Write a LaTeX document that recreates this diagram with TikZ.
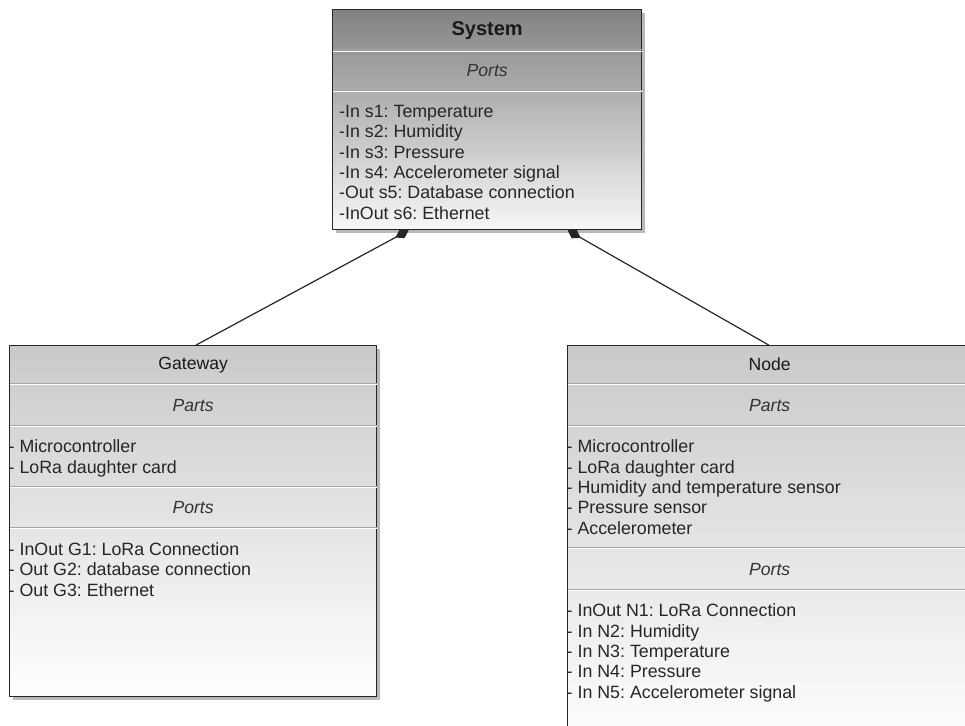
\documentclass[tikz,border=0pt]{standalone}
\usepackage{fontspec}
\setmainfont{Liberation Sans}
\usetikzlibrary{arrows.meta,shadows,calc}
\frenchspacing

\begin{document}
\begin{tikzpicture}[x=1pt,y=-1pt,
  umlbox/.style={draw=black!85, line width=1.3pt, inner sep=0pt, anchor=north west,
    drop shadow={shadow xshift=3pt, shadow yshift=-3pt, fill=black!30, opacity=0.9}},
  sepgray/.style={draw=black!35, line width=1pt},
  sepwhite/.style={draw=white, line width=1pt},
  boxtitle/.style={font=\fontsize{17.6}{20}\selectfont, text=black!90, anchor=base, inner sep=0pt},
  systitle/.style={font=\fontsize{20}{22}\selectfont\bfseries, text=black!90, anchor=base, inner sep=0pt},
  compart/.style={font=\fontsize{17.6}{20}\selectfont\itshape, text=black!80, anchor=base, inner sep=0pt},
  item/.style={font=\fontsize{17.8}{20}\selectfont\frenchspacing, text=black!85, anchor=base west, inner sep=0pt},
  composition/.style={draw=black!85, line width=1.2pt, -{Diamond[length=15pt 0 0,width=10pt 0 0]}}
]
\clip (0,0) rectangle (965,725);
\fill[white] (0,0) rectangle (965,725);

% ---------- System block ----------
\node[umlbox, minimum width=309pt, minimum height=220pt,
      top color=black!49, bottom color=black!3] (sys) at (332,9) {};
\foreach \y in {50,90.5} {
  \draw[sepgray]  ([xshift=0.7pt]sys.west |- 0,\y) -- ([xshift=-0.7pt]sys.east |- 0,\y);
  \draw[sepwhite] ([xshift=0.7pt]sys.west |- 0,\y+1.2) -- ([xshift=-0.7pt]sys.east |- 0,\y+1.2);
}
\node[systitle] (systitle) at (sys.north |- 0,36) {System};
\node[compart] (sysports) at (sys.north |- 0,76.5) {Ports};
\foreach \t [count=\i] in {-In s1: Temperature, -In s2: Humidity, -In s3: Pressure,
    -In s4: Accelerometer signal, -Out s5: Database connection, -InOut s6: Ethernet}
  \node[item] (sysport\i) at (339,{117.3+(\i-1)*20.4}) {\t};

% ---------- Gateway block ----------
\node[umlbox, minimum width=367pt, minimum height=351pt,
      top color=black!21, bottom color=white] (gw) at (9,345) {};
\foreach \y in {383.5,425,486.5,527.5} {
  \draw[sepgray]  ([xshift=0.7pt]gw.west |- 0,\y) -- ([xshift=-0.7pt]gw.east |- 0,\y);
  \draw[sepwhite] ([xshift=0.7pt]gw.west |- 0,\y+1.2) -- ([xshift=-0.7pt]gw.east |- 0,\y+1.2);
}
\node[boxtitle] (gwtitle) at (gw.north |- 0,369.5) {Gateway};
\node[compart] (gwparts) at (gw.north |- 0,411) {Parts};
\node[compart] (gwports) at (gw.north |- 0,513) {Ports};
\foreach \t [count=\i] in {- Microcontroller, - LoRa daughter card}
  \node[item] (gwpart\i) at (8.5,{452.7+(\i-1)*20.4}) {\t};
\foreach \t [count=\i] in {- InOut G1: LoRa Connection, - Out G2: database connection,
    - Out G3: Ethernet}
  \node[item] (gwport\i) at (8.5,{555.2+(\i-1)*20.4}) {\t};

% ---------- Node block ----------
\node[umlbox, minimum width=404pt, minimum height=400pt,
      top color=black!21, bottom color=white] (nd) at (567,345) {};
\foreach \y in {383.5,425,547.3,589} {
  \draw[sepgray]  ([xshift=0.7pt]nd.west |- 0,\y) -- ([xshift=-0.7pt]nd.east |- 0,\y);
  \draw[sepwhite] ([xshift=0.7pt]nd.west |- 0,\y+1.2) -- ([xshift=-0.7pt]nd.east |- 0,\y+1.2);
}
\node[boxtitle] (ndtitle) at (nd.north |- 0,370) {Node};
\node[compart] (ndparts) at (nd.north |- 0,411) {Parts};
\node[compart] (ndports) at (nd.north |- 0,575.5) {Ports};
\foreach \t [count=\i] in {- Microcontroller, - LoRa daughter card,
    - Humidity and temperature sensor, - Pressure sensor, - Accelerometer}
  \node[item] (ndpart\i) at (566.5,{452.7+(\i-1)*20.4}) {\t};
\foreach \t [count=\i] in {- InOut N1: LoRa Connection, - In N2: Humidity,
    - In N3: Temperature, - In N4: Pressure, - In N5: Accelerometer signal}
  \node[item] (ndport\i) at (566.5,{616.7+(\i-1)*20.4}) {\t};

% ---------- composition links ----------
\draw[composition] ($(gw.north)+(3,0)$) -- ($(sys.south)+(-78.5,0)$);
\draw[composition] ($(nd.north)+(-1,0)$) -- ($(sys.south)+(80.5,0)$);
\end{tikzpicture}
\end{document}
